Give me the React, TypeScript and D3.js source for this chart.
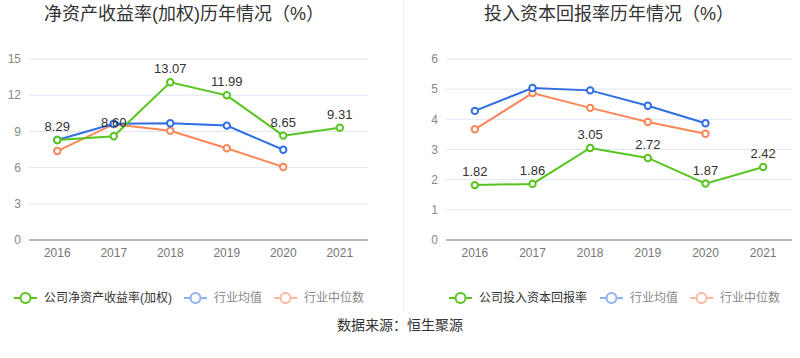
import React from "react";
import * as d3 from "d3";

const years = ["2016", "2017", "2018", "2019", "2020", "2021"];
const roeCompany = [8.29, 8.6, 13.07, 11.99, 8.65, 9.31];
const roeMean = [8.29, 9.64, 9.68, 9.48, 7.48, null];
const roeMedian = [7.37, 9.6, 9.06, 7.6, 6.05, null];
const roicCompany = [1.82, 1.86, 3.05, 2.72, 1.87, 2.42];
const roicMean = [4.28, 5.04, 4.96, 4.45, 3.87, null];
const roicMedian = [3.67, 4.87, 4.38, 3.91, 3.52, null];
const roeTicks = [0, 3, 6, 9, 12, 15];
const roicTicks = [0, 1, 2, 3, 4, 5, 6];

const GREEN = "#57c41f";
const BLUE = "#2f6ee3";
const ORANGE = "#fd8657";
const FONT = "'Liberation Sans', 'Noto Sans CJK SC', sans-serif";

type Panel = {
  title: string;
  titleX: number;
  x0: number;
  x1: number;
  ticks: number[];
  company: (number | null)[];
  mean: (number | null)[];
  median: (number | null)[];
  legendName: string;
  legendX: number[];
};

const panels: Panel[] = [
  {
    title: "净资产收益率(加权)历年情况（%）",
    titleX: 184,
    x0: 29,
    x1: 368,
    ticks: roeTicks,
    company: roeCompany,
    mean: roeMean,
    median: roeMedian,
    legendName: "公司净资产收益率(加权)",
    legendX: [14, 184, 274],
  },
  {
    title: "投入资本回报率历年情况（%）",
    titleX: 609,
    x0: 446,
    x1: 792,
    ticks: roicTicks,
    company: roicCompany,
    mean: roicMean,
    median: roicMedian,
    legendName: "公司投入资本回报率",
    legendX: [449, 600, 690],
  },
];

function ChartPanel({ p }: { p: Panel }) {
  const yTop = 59;
  const yBot = 240;
  const x = d3.scaleBand<string>().domain(years).range([p.x0, p.x1]);
  const y = d3
    .scaleLinear()
    .domain([0, p.ticks[p.ticks.length - 1]])
    .range([yBot, yTop]);
  const cx = (i: number) => (x(years[i]) as number) + x.bandwidth() / 2;
  const line = d3
    .line<number | null>()
    .defined((d) => d != null)
    .x((_, i) => cx(i))
    .y((d) => y(d as number));

  const series = [
    { data: p.median, color: ORANGE },
    { data: p.mean, color: BLUE },
    { data: p.company, color: GREEN },
  ];

  const legend = [
    { name: p.legendName, color: GREEN, text: "#333" },
    { name: "行业均值", color: "#8fb1f2", text: "#888" },
    { name: "行业中位数", color: "#fcb79c", text: "#888" },
  ];

  return (
    <g>
      <text
        x={p.titleX}
        y={20}
        textAnchor="middle"
        fontSize={18}
        fill="#333"
        fontFamily={FONT}
      >
        {p.title}
      </text>
      {p.ticks.map((t) => (
        <g key={t}>
          {t !== 0 && (
            <line
              x1={p.x0}
              x2={p.x1}
              y1={y(t)}
              y2={y(t)}
              stroke="#e0e6f1"
              strokeWidth={1}
            />
          )}
          <text
            x={p.x0 - 8}
            y={y(t)}
            dy="0.35em"
            textAnchor="end"
            fontSize={12}
            fill="#888"
            fontFamily={FONT}
          >
            {t}
          </text>
        </g>
      ))}
      <line x1={p.x0} x2={p.x1} y1={yBot} y2={yBot} stroke="#6e7079" />
      {years.map((yr, i) => (
        <text
          key={yr}
          x={cx(i)}
          y={yBot + 17}
          textAnchor="middle"
          fontSize={12}
          fill="#777"
          fontFamily={FONT}
        >
          {yr}
        </text>
      ))}
      {series.map((s, si) => (
        <g key={si}>
          <path d={line(s.data) || ""} fill="none" stroke={s.color} strokeWidth={2} />
          {s.data.map((d, i) =>
            d == null ? null : (
              <circle
                key={i}
                cx={cx(i)}
                cy={y(d)}
                r={3.2}
                fill="#fff"
                stroke={s.color}
                strokeWidth={2}
              />
            )
          )}
        </g>
      ))}
      {p.company.map((d, i) =>
        d == null ? null : (
          <text
            key={i}
            x={cx(i)}
            y={y(d) - 9}
            textAnchor="middle"
            fontSize={13}
            fill="#333"
            fontFamily={FONT}
          >
            {d.toFixed(2)}
          </text>
        )
      )}
      {legend.map((l, i) => {
        const lx = p.legendX[i];
        const ly = 298;
        return (
          <g key={i}>
            <line x1={lx} x2={lx + 23} y1={ly} y2={ly} stroke={l.color} strokeWidth={2} />
            <circle cx={lx + 11.5} cy={ly} r={5} fill="#fff" stroke={l.color} strokeWidth={2} />
            <text
              x={lx + 30}
              y={ly}
              dy="0.35em"
              fontSize={12}
              fill={l.text}
              fontFamily={FONT}
            >
              {l.name}
            </text>
          </g>
        );
      })}
    </g>
  );
}

export default function App() {
  return (
    <svg width={800} height={358} style={{ position: "absolute", left: 0, top: 0 }}>
      <rect width={800} height={358} fill="#fff" />
      <line x1={403.5} x2={403.5} y1={0} y2={312} stroke="#eee" strokeWidth={1} />
      {panels.map((p, i) => (
        <ChartPanel key={i} p={p} />
      ))}
      <text
        x={400}
        y={325}
        dy="0.35em"
        textAnchor="middle"
        fontSize={14}
        fill="#333"
        fontFamily={FONT}
      >
        数据来源：恒生聚源
      </text>
    </svg>
  );
}
